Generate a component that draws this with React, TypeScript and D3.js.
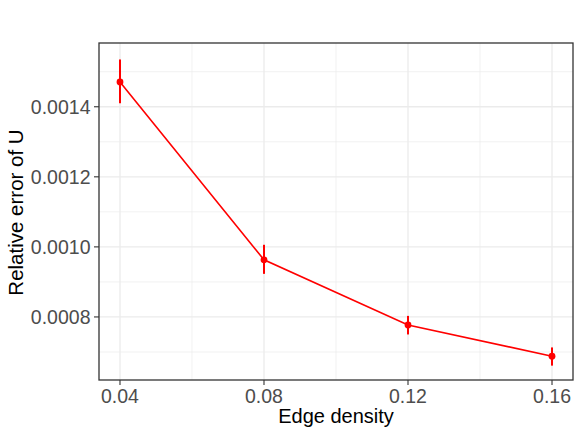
import React from "react";
import * as d3 from "d3";

const density = [0.04, 0.08, 0.12, 0.16];
const meanErr = [0.001471, 0.000963, 0.000777, 0.000688];
const lowErr = [0.00141, 0.000923, 0.00075, 0.000661];
const highErr = [0.001535, 0.001006, 0.000803, 0.000713];
const xTicks = [0.04, 0.08, 0.12, 0.16];
const xMinor = [0.06, 0.1, 0.14];
const yTicks = [0.0008, 0.001, 0.0012, 0.0014];
const yMinor = [0.0007, 0.0009, 0.0011, 0.0013, 0.0015];

const W = 581, H = 436;
const left = 99, right = 573, top = 43, bottom = 380;

export default function App() {
  const x = d3.scaleLinear().domain([0.03417, 0.16583]).range([left, right]);
  const y = d3.scaleLinear().domain([0.00062, 0.001582]).range([bottom, top]);
  const data = density.map((d, i) => ({ d, m: meanErr[i], lo: lowErr[i], hi: highErr[i] }));
  const line = d3.line<any>().x(p => x(p.d)).y(p => y(p.m));
  const font = "'Liberation Sans', Arial, Helvetica, sans-serif";
  return (
    <svg width={W} height={H} style={{ position: "absolute", left: 0, top: 0 }} fontFamily={font}>
      <rect x={0} y={0} width={W} height={H} fill="white" />
      {xMinor.map(t => (
        <line key={"xm" + t} x1={x(t)} x2={x(t)} y1={top} y2={bottom} stroke="#ebebeb" strokeWidth={0.7} />
      ))}
      {yMinor.map(t => (
        <line key={"ym" + t} x1={left} x2={right} y1={y(t)} y2={y(t)} stroke="#ebebeb" strokeWidth={0.7} />
      ))}
      {xTicks.map(t => (
        <line key={"xg" + t} x1={x(t)} x2={x(t)} y1={top} y2={bottom} stroke="#ebebeb" strokeWidth={1.3} />
      ))}
      {yTicks.map(t => (
        <line key={"yg" + t} x1={left} x2={right} y1={y(t)} y2={y(t)} stroke="#ebebeb" strokeWidth={1.3} />
      ))}
      <path d={line(data) || ""} fill="none" stroke="#ff0000" strokeWidth={1.6} />
      {data.map((p, i) => (
        <g key={i}>
          <line x1={x(p.d)} x2={x(p.d)} y1={y(p.lo)} y2={y(p.hi)} stroke="#ff0000" strokeWidth={2} />
          <circle cx={x(p.d)} cy={y(p.m)} r={3.4} fill="#ff0000" />
        </g>
      ))}
      <rect x={left} y={top} width={right - left} height={bottom - top} fill="none" stroke="#333333" strokeWidth={1.3} />
      {xTicks.map(t => (
        <g key={"xt" + t}>
          <line x1={x(t)} x2={x(t)} y1={bottom} y2={bottom + 5} stroke="#333333" strokeWidth={1.1} />
          <text x={x(t)} y={403} textAnchor="middle" fontSize={19.5} fill="#4d4d4d">
            {d3.format(".2f")(t)}
          </text>
        </g>
      ))}
      {yTicks.map(t => (
        <g key={"yt" + t}>
          <line x1={left - 5} x2={left} y1={y(t)} y2={y(t)} stroke="#333333" strokeWidth={1.1} />
          <text x={left - 8.5} y={y(t)} dy="0.36em" textAnchor="end" fontSize={19.5} fill="#4d4d4d">
            {d3.format(".4f")(t)}
          </text>
        </g>
      ))}
      <text x={(left + right) / 2} y={423} textAnchor="middle" fontSize={20} fill="black">
        Edge density
      </text>
      <text transform={`translate(22.5, 212.5) rotate(-90)`} textAnchor="middle" fontSize={20.5} fill="black">
        Relative error of U
      </text>
    </svg>
  );
}
